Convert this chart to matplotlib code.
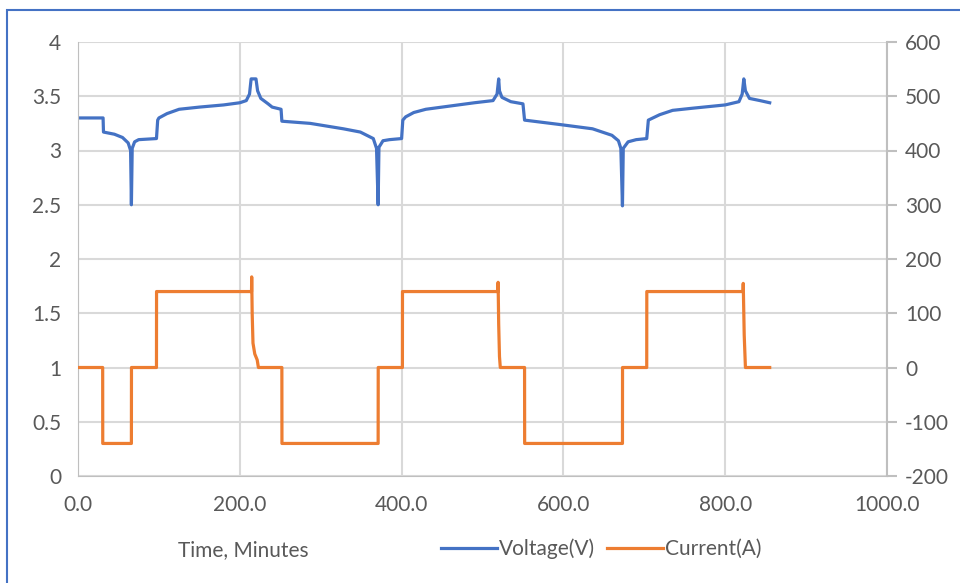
import matplotlib
matplotlib.use("Agg")
from matplotlib import pyplot as plt
from matplotlib.patches import Rectangle

plt.rcParams['font.family'] = ['Lato', 'DejaVu Sans']
plt.rcParams['axes.unicode_minus'] = False

# voltage trace (minutes, volts)
v_time = [0, 31, 31.5, 45, 55, 62, 65, 66, 67, 70, 75, 97, 98.5, 100, 110, 125, 150, 180, 200,
          208, 212, 214, 220, 222, 226, 235, 240, 251, 252, 287, 328, 349, 365, 369, 371, 372,
          377, 385, 400, 401.5, 405, 415, 430, 460, 490, 513, 518, 520, 521, 524, 535, 550, 552,
          595, 636, 660, 668, 671, 673, 674, 680, 690, 703, 705, 719, 735, 760, 800, 817, 821,
          823, 825, 830, 843, 855]
voltage = [3.30, 3.30, 3.17, 3.15, 3.12, 3.07, 3.00, 2.50, 3.02, 3.08, 3.10, 3.11, 3.28, 3.30,
           3.34, 3.38, 3.40, 3.42, 3.44, 3.46, 3.52, 3.66, 3.66, 3.55, 3.48, 3.43, 3.40, 3.38,
           3.27, 3.25, 3.20, 3.17, 3.11, 3.02, 2.50, 3.03, 3.09, 3.10, 3.11, 3.28, 3.31, 3.35,
           3.38, 3.41, 3.44, 3.46, 3.52, 3.66, 3.55, 3.49, 3.45, 3.43, 3.28, 3.24, 3.20, 3.14,
           3.09, 3.02, 2.49, 3.02, 3.08, 3.10, 3.11, 3.28, 3.33, 3.37, 3.39, 3.42, 3.45, 3.52,
           3.66, 3.55, 3.48, 3.46, 3.44]

# current trace (minutes, amps)
c_time = [0, 30.5, 30.6, 66, 66.1, 97, 97.1, 214.5, 214.7, 215.3, 216.3, 218.5, 221.5, 223,
          252, 252.1, 371, 371.1, 401, 401.1, 519, 519.3, 520, 521, 522, 552, 552.1, 673, 673.1,
          703, 703.1, 822, 822.3, 823.5, 825, 855]
current = [0, 0, -140, -140, 0, 0, 140, 140, 167, 100, 45, 25, 14, 0, 0, -140, -140, 0, 0, 140,
           140, 157, 80, 20, 0, 0, -140, -140, 0, 0, 140, 140, 155, 60, 0, 0]

txt = '#595959'
grid = '#d9d9d9'
fs = 15

fig = plt.figure(figsize=(9.6, 5.83), dpi=100)
ax = fig.add_axes([78/960, 1-476/583, (887-78)/960, (476-42)/583])
ax2 = ax.twinx()

l1, = ax.plot(v_time, voltage, color='#4472c4', lw=2.3, label='Voltage(V)')
l2, = ax2.plot(c_time, current, color='#ed7d31', lw=2.3, label='Current(A)')

ax.set_xlim(0, 1000)
ax.set_ylim(0, 4)
ax2.set_ylim(-200, 600)
ax.set_xticks(range(0, 1001, 200))
ax.set_xticklabels(['%.1f' % t for t in range(0, 1001, 200)])
ax.set_yticks([0, 0.5, 1, 1.5, 2, 2.5, 3, 3.5, 4])
ax.set_yticklabels(['0', '0.5', '1', '1.5', '2', '2.5', '3', '3.5', '4'])
ax2.set_yticks(range(-200, 601, 100))

ax.grid(True, color=grid, lw=1.5)
ax.set_axisbelow(True)
for a in (ax, ax2):
    for s in a.spines.values():
        s.set_visible(False)
ax.spines['left'].set_visible(True)
ax.spines['bottom'].set_visible(True)
ax.spines['left'].set_color('#bfbfbf')
ax.spines['bottom'].set_color('#bfbfbf')
ax2.spines['right'].set_visible(True)
ax2.spines['right'].set_color('#bfbfbf')
ax2.spines['right'].set_linewidth(1.5)

ax.tick_params(axis='both', length=0, labelsize=fs, labelcolor=txt, pad=12)
ax.tick_params(axis='x', pad=14)
ax2.tick_params(axis='y', length=7, width=1.5, color='#bfbfbf', labelsize=fs, labelcolor=txt, pad=6)

fig.text(243/960, 1-550/583, 'Time, Minutes', ha='center', va='center', fontsize=fs, color=txt)
fig.legend(handles=[l1, l2], loc='center', bbox_to_anchor=(601/960, 1-549/583), ncol=2,
           frameon=False, fontsize=fs, labelcolor=txt, handlelength=2.7, handletextpad=0.1,
           columnspacing=0.55)

fig.patches.append(Rectangle((7/960, -0.1), 1.1, 1-10/583+0.1, transform=fig.transFigure,
                             fill=False, edgecolor='#4472c4', lw=1.5))

fig.savefig('out.png', dpi=100)
